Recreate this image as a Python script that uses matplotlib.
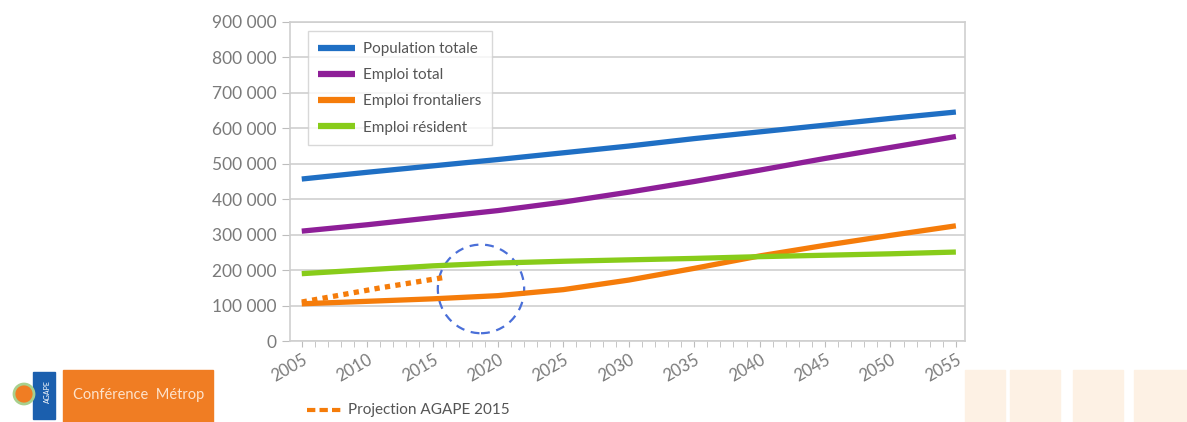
import matplotlib.pyplot as plt
from matplotlib.patches import Ellipse, Rectangle

plt.rcParams['font.family'] = ['Lato', 'DejaVu Sans']

# Données
annees = [2005, 2010, 2015, 2020, 2025, 2030, 2035, 2040, 2045, 2050, 2055]
population_totale = [457000, 476000, 494000, 512000, 531000, 550000, 571000, 590000, 609000, 628000, 646000]
emploi_total = [310000, 328000, 348000, 368000, 392000, 420000, 450000, 482000, 515000, 546000, 577000]
emploi_frontaliers = [105000, 112000, 119000, 128000, 145000, 172000, 205000, 240000, 270000, 298000, 325000]
emploi_resident = [190000, 201000, 212000, 220000, 225000, 229000, 233000, 238000, 242000, 246000, 251000]

annees_agape = [2005, 2008, 2011, 2014, 2016]
projection_agape = [110000, 130000, 150000, 168000, 180000]

y_ticks = [0, 100000, 200000, 300000, 400000, 500000, 600000, 700000, 800000, 900000]
x_ticks = list(range(2005, 2060, 5))

gris = '#7a7a7a'

fig = plt.figure(figsize=(11.87, 4.22), dpi=100)
ax = fig.add_axes([0.2443, 0.1919, 0.5687, 0.756])

ax.plot(annees, population_totale, color='#1f6fc4', lw=3.8, label='Population totale', solid_capstyle='butt')
ax.plot(annees, emploi_total, color='#8e1f98', lw=3.8, label='Emploi total', solid_capstyle='butt')
ax.plot(annees, emploi_frontaliers, color='#f57c0a', lw=3.8, label='Emploi frontaliers', solid_capstyle='butt')
ax.plot(annees, emploi_resident, color='#88cc1a', lw=3.8, label='Emploi résident', solid_capstyle='butt')
ax.plot(annees_agape, projection_agape, color='#f57c0a', lw=3.8, ls=(0, (1.0, 1.0)))

# cercle pointillé bleu
ax.add_patch(Ellipse((2018.7, 147000), 6.6, 250000, fill=False, ec='#4a6fd8',
                     lw=1.6, ls=(0, (4, 3))))

ax.set_xlim(2004.1, 2055.7)
ax.set_ylim(0, 900000)
ax.set_yticks(y_ticks)
ax.set_yticklabels([f'{v:,}'.replace(',', ' ') for v in y_ticks])
ax.set_xticks(x_ticks)
ax.set_xticks(range(2005, 2056), minor=True)
ax.tick_params(axis='x', which='both', direction='out', length=4, color='#bdbdbd',
               labelsize=12, labelcolor=gris, rotation=30)
ax.tick_params(axis='y', direction='out', length=6, color='#bdbdbd', labelsize=12.5, labelcolor=gris)
for lab in ax.get_xticklabels():
    lab.set_ha('right')
    lab.set_rotation_mode('anchor')

ax.grid(axis='y', color='#cfcfcf', lw=1.2)
ax.set_axisbelow(True)
for s in ax.spines.values():
    s.set_color('#cfcfcf')
    s.set_linewidth(1.2)

leg = ax.legend(loc='upper left', bbox_to_anchor=(0.015, 0.995), fontsize=11, frameon=True,
                fancybox=False, edgecolor='#cfcfcf', handlelength=2.4, labelspacing=0.8,
                borderpad=0.7, handletextpad=0.5)
for t in leg.get_texts():
    t.set_color('#555555')
for h in leg.get_lines():
    h.set_linewidth(4.5)
leg.get_frame().set_linewidth(1.0)

# bandeau du bas
fig.patches.append(Rectangle((63 / 1187, 0), 150 / 1187, 52 / 422, transform=fig.transFigure,
                             color='#f07d23', zorder=0))
fig.text(73 / 1187, 27 / 422, 'Conférence  Métrop', color='#fde3cc', fontsize=10.5, va='center')
fig.patches.append(Rectangle((33 / 1187, 3 / 422), 22 / 1187, 47 / 422, transform=fig.transFigure,
                             color='#1b5fae', zorder=0))
fig.patches.append(Ellipse((24 / 1187, 28 / 422), 20 / 1187, 20 / 422, transform=fig.transFigure,
                           fc='#f07d23', ec='#a8d08d', lw=2, zorder=1))
fig.text(47 / 1187, 30 / 422, 'AGAPE', color='white', fontsize=5, rotation=90, va='center', ha='center')
for x0, w in [(965, 40), (1010, 50), (1073, 50), (1134, 53)]:
    fig.patches.append(Rectangle((x0 / 1187, 0), w / 1187, 52 / 422, transform=fig.transFigure,
                                 color='#fdf1e4', zorder=0))

fig.lines.append(plt.Line2D([307 / 1187, 342 / 1187], [12 / 422, 12 / 422], transform=fig.transFigure,
                            color='#f57c0a', lw=3, ls=(0, (2.0, 1.0))))
fig.text(348 / 1187, 12 / 422, 'Projection AGAPE 2015', color='#555555', fontsize=11, va='center')

fig.savefig('out.png', dpi=100)
